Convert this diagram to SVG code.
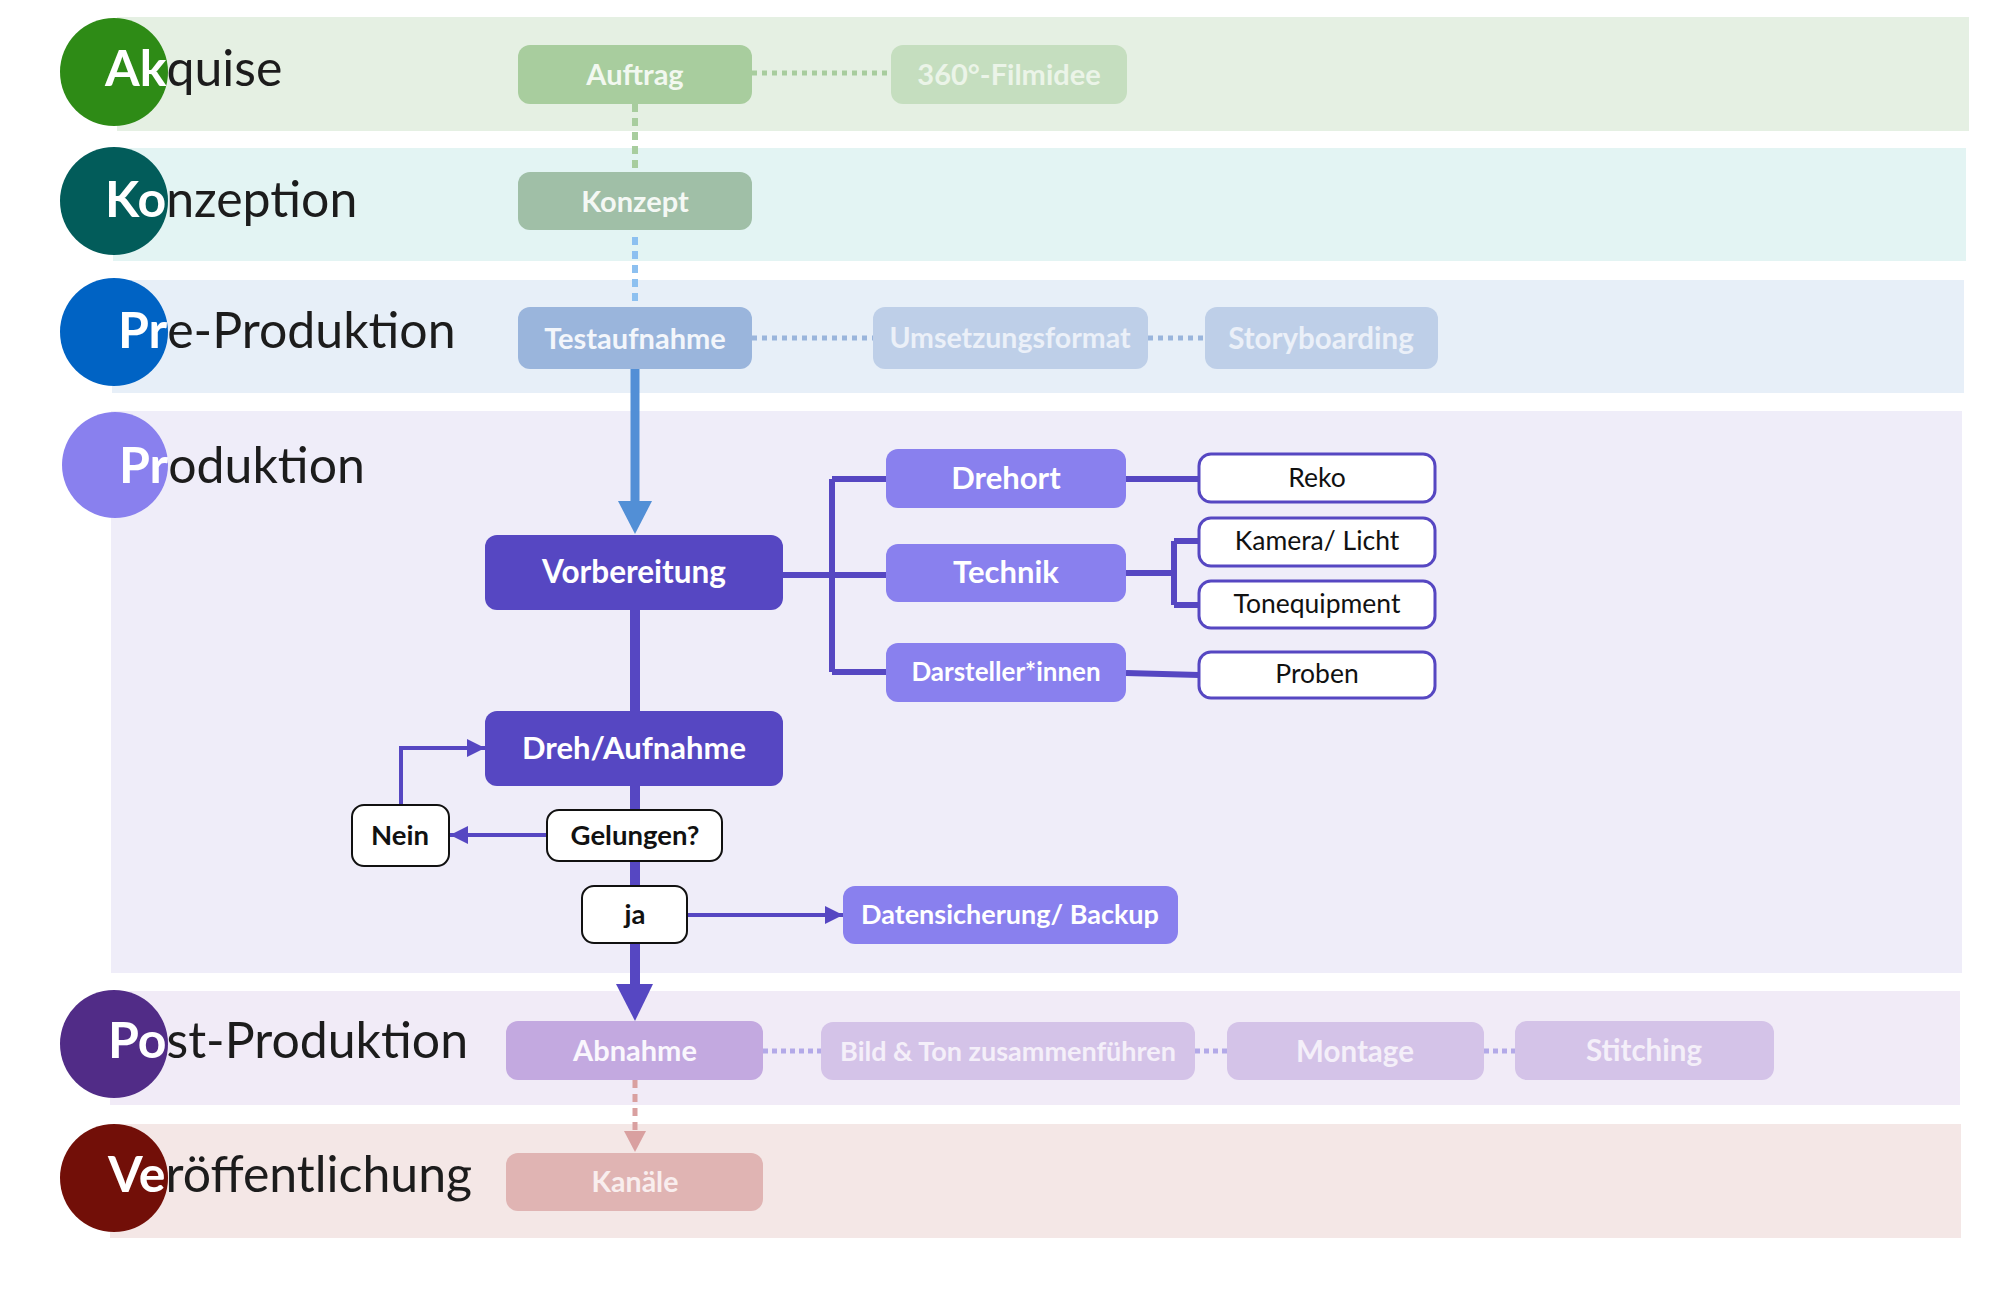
<svg xmlns="http://www.w3.org/2000/svg" width="2000" height="1310" viewBox="0 0 2000 1310">
<style>
.phase{font-family:Lato,"Liberation Sans",sans-serif;font-size:50px;fill:#1c1c1c}
.w{fill:#ffffff;font-weight:700}
.bl{font-family:Lato,"Liberation Sans",sans-serif;font-weight:700;text-anchor:middle;dominant-baseline:central}
.rl{font-family:Lato,"Liberation Sans",sans-serif;font-weight:400;text-anchor:middle;dominant-baseline:central;font-size:26.5px;fill:#111}
.wb{fill:#fff;stroke:#5647c2;stroke-width:3}
.kb{fill:#fff;stroke:#111;stroke-width:2}
.pl{stroke:#5647c2;fill:none}
</style>
<defs>
<marker id="ah" markerUnits="userSpaceOnUse" markerWidth="20" markerHeight="18" refX="18" refY="9" orient="auto">
<path d="M0,0 L18,9 L0,18 Z" fill="#5647c2"/>
</marker>
</defs>
<g id="bands">
<rect x="117" y="17" width="1852" height="114" fill="#e5f0e3"/>
<rect x="113" y="148" width="1853" height="113" fill="#e3f4f3"/>
<rect x="112" y="280" width="1852" height="113" fill="#e7eff8"/>
<rect x="111" y="411" width="1851" height="562" fill="#efedf9"/>
<rect x="110" y="991" width="1850" height="114" fill="#f1ebf7"/>
<rect x="110" y="1124" width="1851" height="114" fill="#f4e7e6"/>
</g>
<g id="phase-akquise">
<circle cx="114" cy="72" r="54" fill="#2e8b16"/>
<text class="phase" x="105" y="86"><tspan class="w">Ak</tspan>quise</text>
</g>
<g id="phase-konzeption">
<circle cx="114" cy="201" r="54" fill="#025c5a"/>
<text class="phase" x="105" y="217"><tspan class="w">Ko</tspan>nzeption</text>
</g>
<g id="phase-pre">
<circle cx="114" cy="332" r="54" fill="#0063c4"/>
<text class="phase" x="118" y="348"><tspan class="w">Pr</tspan>e-Produktion</text>
</g>
<g id="phase-produktion">
<circle cx="115" cy="465" r="53" fill="#8980ee"/>
<text class="phase" x="119" y="483"><tspan class="w">Pr</tspan>oduktion</text>
</g>
<g id="phase-post">
<circle cx="114" cy="1044" r="54" fill="#512c87"/>
<text class="phase" x="108" y="1058"><tspan class="w">Po</tspan>st-Produktion</text>
</g>
<g id="phase-veroeffentlichung">
<circle cx="114" cy="1178" r="54" fill="#720f08"/>
<text class="phase" x="108" y="1192"><tspan class="w">Ve</tspan>röffentlichung</text>
</g>
<g id="connectors">
<line x1="752" y1="73" x2="891" y2="73" stroke="#a8cd9e" stroke-width="5" stroke-dasharray="5 5"/>
<line x1="635" y1="104" x2="635" y2="172" stroke="#a8cd9e" stroke-width="6" stroke-dasharray="8 6"/>
<line x1="635" y1="237" x2="635" y2="307" stroke="#8dc0f0" stroke-width="6" stroke-dasharray="8 6"/>
<line x1="752" y1="338" x2="873" y2="338" stroke="#9ab5dc" stroke-width="5" stroke-dasharray="5 5"/>
<line x1="1148" y1="338" x2="1205" y2="338" stroke="#9ab5dc" stroke-width="5" stroke-dasharray="5 5"/>
<line x1="635" y1="369" x2="635" y2="503" stroke="#528fd6" stroke-width="9"/>
<polygon points="618,501 652,501 635,534" fill="#528fd6"/>
<line x1="635" y1="610" x2="635" y2="986" stroke="#5647c2" stroke-width="10"/>
<polygon points="616,984 653,984 635,1021" fill="#5647c2"/>
<path class="pl" stroke-width="6" d="M783,575 H832 M832,479 V672 M832,479 H886 M832,575 H886 M832,672 H886"/>
<path class="pl" stroke-width="6" d="M1126,479 H1199 M1126,573 H1174 M1174,541 V605 M1174,541 H1199 M1174,605 H1199 M1126,673 L1199,675"/>
<path class="pl" stroke-width="4" d="M401,805 V748 H485" marker-end="url(#ah)"/>
<path class="pl" stroke-width="4" d="M547,835 H450" marker-end="url(#ah)"/>
<path class="pl" stroke-width="4" d="M687,915 H843" marker-end="url(#ah)"/>
<line x1="1195" y1="1051" x2="1227" y2="1051" stroke="#b3a9e8" stroke-width="5" stroke-dasharray="5 4"/>
<line x1="763" y1="1051" x2="821" y2="1051" stroke="#b3a9e8" stroke-width="5" stroke-dasharray="5 4"/>
<line x1="1484" y1="1051" x2="1515" y2="1051" stroke="#b3a9e8" stroke-width="5" stroke-dasharray="5 4"/>
<line x1="635" y1="1080" x2="635" y2="1132" stroke="#d9a0a0" stroke-width="5" stroke-dasharray="8 6"/>
<polygon points="624,1131 646,1131 635,1152" fill="#d9a0a0"/>
</g>
<g id="node-auftrag"><rect x="518" y="45" width="234" height="59" rx="12" fill="#a8cd9e"/><text class="bl" x="635" y="73" font-size="29" fill="#f2f8f0">Auftrag</text></g>
<g id="node-filmidee"><rect x="891" y="45" width="236" height="59" rx="12" fill="#c5debf"/><text class="bl" x="1009" y="73" font-size="29" fill="#ebf4e8">360°-Filmidee</text></g>
<g id="node-konzept"><rect x="518" y="172" width="234" height="58" rx="12" fill="#a0bfa7"/><text class="bl" x="635" y="200" font-size="29" fill="#f4f8f4">Konzept</text></g>
<g id="node-testaufnahme"><rect x="518" y="307" width="234" height="62" rx="12" fill="#9ab5dc"/><text class="bl" x="635" y="337" font-size="29" fill="#f3f6fb">Testaufnahme</text></g>
<g id="node-umsetzungsformat"><rect x="873" y="307" width="275" height="62" rx="12" fill="#becfe8"/><text class="bl" x="1010" y="337" font-size="28.5" fill="#ebf0f8">Umsetzungsformat</text></g>
<g id="node-storyboarding"><rect x="1205" y="307" width="233" height="62" rx="12" fill="#becfe8"/><text class="bl" x="1321" y="337" font-size="29.5" fill="#ebf0f8">Storyboarding</text></g>
<g id="node-vorbereitung"><rect x="485" y="535" width="298" height="75" rx="12" fill="#5647c2"/><text class="bl" x="634" y="571" font-size="31.5" fill="#fff">Vorbereitung</text></g>
<g id="node-drehort"><rect x="886" y="449" width="240" height="59" rx="12" fill="#8980ee"/><text class="bl" x="1006" y="477" font-size="31" fill="#fff">Drehort</text></g>
<g id="node-technik"><rect x="886" y="544" width="240" height="58" rx="12" fill="#8980ee"/><text class="bl" x="1006" y="571" font-size="31" fill="#fff">Technik</text></g>
<g id="node-darsteller"><rect x="886" y="643" width="240" height="59" rx="12" fill="#8980ee"/><text class="bl" x="1006" y="671" font-size="26" fill="#fff">Darsteller*innen</text></g>
<g id="node-reko"><rect class="wb" x="1199" y="454" width="236" height="48" rx="12"/><text class="rl" x="1317" y="477">Reko</text></g>
<g id="node-kamera"><rect class="wb" x="1199" y="518" width="236" height="48" rx="12"/><text class="rl" x="1317" y="540">Kamera/ Licht</text></g>
<g id="node-ton"><rect class="wb" x="1199" y="581" width="236" height="47" rx="12"/><text class="rl" x="1317" y="603">Tonequipment</text></g>
<g id="node-proben"><rect class="wb" x="1199" y="652" width="236" height="46" rx="12"/><text class="rl" x="1317" y="673">Proben</text></g>
<g id="node-dreh"><rect x="485" y="711" width="298" height="75" rx="12" fill="#5647c2"/><text class="bl" x="634" y="747" font-size="31" fill="#fff">Dreh/Aufnahme</text></g>
<g id="node-nein"><rect class="kb" x="352" y="805" width="97" height="61" rx="12"/><text class="bl" x="400" y="834" font-size="27.5" fill="#111">Nein</text></g>
<g id="node-gelungen"><rect class="kb" x="547" y="810" width="175" height="51" rx="12"/><text class="bl" x="635" y="834" font-size="27.5" fill="#111">Gelungen?</text></g>
<g id="node-ja"><rect class="kb" x="582" y="886" width="105" height="57" rx="12"/><text class="bl" x="635" y="913" font-size="27.5" fill="#111">ja</text></g>
<g id="node-datensicherung"><rect x="843" y="886" width="335" height="58" rx="12" fill="#8980ee"/><text class="bl" x="1010" y="913" font-size="27" fill="#fff">Datensicherung/ Backup</text></g>
<g id="node-abnahme"><rect x="506" y="1021" width="257" height="59" rx="12" fill="#c3a9e0"/><text class="bl" x="635" y="1049" font-size="29" fill="#faf7fd">Abnahme</text></g>
<g id="node-bildton"><rect x="821" y="1022" width="374" height="58" rx="12" fill="#d4c3e8"/><text class="bl" x="1008" y="1050" font-size="27" fill="#f4eff9">Bild &amp; Ton zusammenführen</text></g>
<g id="node-montage"><rect x="1227" y="1022" width="257" height="58" rx="12" fill="#d4c3e8"/><text class="bl" x="1355" y="1050" font-size="29.5" fill="#f4eff9">Montage</text></g>
<g id="node-stitching"><rect x="1515" y="1021" width="259" height="59" rx="12" fill="#d4c3e8"/><text class="bl" x="1644" y="1049" font-size="29.5" fill="#f4eff9">Stitching</text></g>
<g id="node-kanaele"><rect x="506" y="1153" width="257" height="58" rx="12" fill="#e0b4b3"/><text class="bl" x="635" y="1181" font-size="28.5" fill="#f9eeee">Kanäle</text></g>
</svg>
